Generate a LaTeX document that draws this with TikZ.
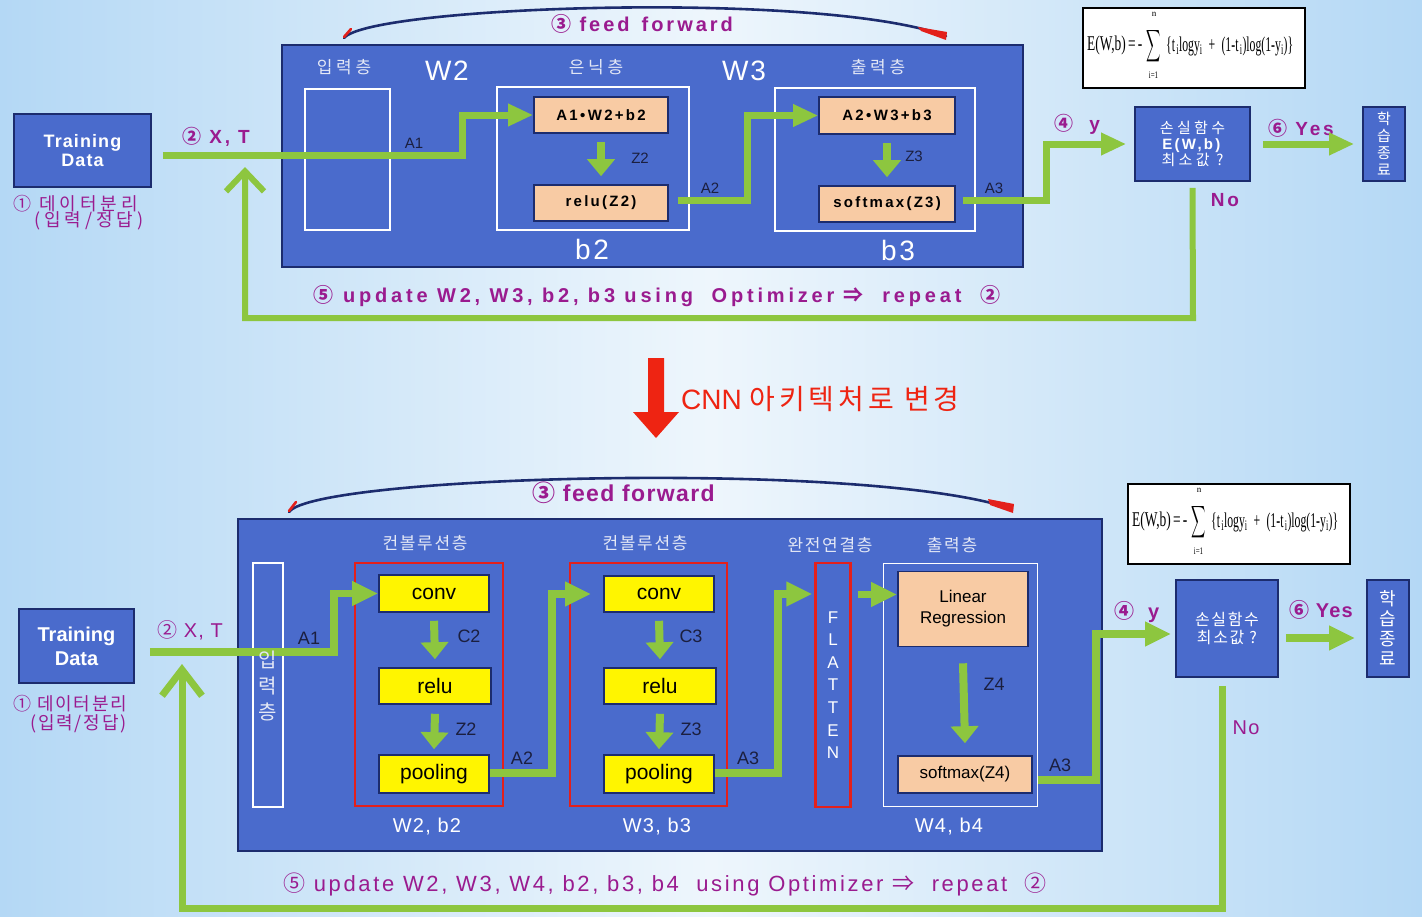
\documentclass[tikz,border=0pt]{standalone}
\usepackage{exscale}
\usepackage{fontspec}
\setmainfont{Liberation Sans}
\newfontfamily\kr{Noto Sans CJK KR}
\newfontfamily\krw[LetterSpace=22]{Noto Sans CJK KR}
\newfontfamily\krs[LetterSpace=10]{Noto Sans CJK KR}
\newfontfamily\krc[LetterSpace=14]{Noto Sans CJK KR}
\newfontfamily\ws[LetterSpace=15]{Liberation Sans}
\newfontfamily\wu[LetterSpace=19]{Liberation Sans}
\newfontfamily\wt[LetterSpace=6]{Liberation Sans}
\newfontfamily\wv[LetterSpace=10]{Liberation Sans}
\newfontfamily\ww[LetterSpace=12]{Liberation Sans}
\newfontfamily\serif{Liberation Serif}
\usetikzlibrary{arrows.meta}
\newcommand\fsz[2]{\fontsize{#1}{#2}\selectfont}
\definecolor{bgA}{HTML}{B4D8F5}
\definecolor{bgB}{HTML}{EEF6FC}
\definecolor{boxblue}{HTML}{4A6BCC}
\definecolor{navy}{HTML}{1C2C6E}
\definecolor{peach}{HTML}{F8CBA4}
\definecolor{yel}{HTML}{FFF500}
\definecolor{redb}{HTML}{E3201B}
\definecolor{purp}{HTML}{9A1B8F}
\definecolor{grn}{HTML}{8DC63F}
\definecolor{labtxt}{HTML}{E4E8F6}
\definecolor{dark}{HTML}{1B1F3F}
\definecolor{cnnred}{HTML}{EE2412}
\tikzset{
 bbox/.style={draw=navy, line width=1.6pt, fill=boxblue, inner sep=0pt, text=white, align=center},
 pbox/.style={draw=navy, line width=1.6pt, fill=peach, inner sep=0pt, align=center, text=black},
 ybox/.style={draw=navy, line width=1.6pt, fill=yel, inner sep=0pt, align=center, text=black},
 wrect/.style={draw=white, line width=1.8pt, inner sep=0pt},
 rrect/.style={draw=redb, line width=2.2pt, inner sep=0pt},
 wtxt/.style={text=labtxt, inner sep=0pt, align=center},
 whtxt/.style={text=white, inner sep=0pt, align=center},
 ptxt/.style={text=purp, inner sep=0pt, align=center},
 dtxt/.style={text=dark, inner sep=0pt},
 ftxt/.style={text=black, inner sep=0pt},
 garrow/.style={draw=grn, line width=7pt, -{Triangle[length=25pt,width=21pt]}},
 garrowb/.style={draw=grn, line width=7.5pt, -{Triangle[length=26pt,width=23pt]}},
 darrow/.style={draw=grn, line width=8pt, -{Triangle[length=17pt,width=27pt]}},
 fback/.style={draw=grn, line width=6pt, -{Straight Barb[length=20pt,width=38pt]}},
 fbackb/.style={draw=grn, line width=7pt, -{Straight Barb[length=26pt,width=40pt]}},
 fbox/.style={draw=black, line width=2pt, fill=white, inner sep=0pt},
 swoosh/.style={draw=navy, line width=2.6pt, line cap=round},
}
\begin{document}
\begin{tikzpicture}[x=1pt,y=-1pt]
\useasboundingbox (0,0) rectangle (1422,916);
\fill[left color=bgA, right color=bgA, middle color=bgB] (0,0) rectangle (1422,916);

% ================= TOP =================
\draw[swoosh] (344,38) .. controls (370,6) and (820,-10) .. (946,36);
\draw[redb, line width=2.6pt, line cap=round] (344,37) -- (351,29);
\fill[redb] (918,27) -- (947,32) -- (946,40) -- (921,31) -- cycle;
\node[ptxt, font=\ws\bfseries\fsz{20}{22}] (ff1) at (642,24) {{\kr ③} feed \,forward};

\node[bbox, minimum width=137, minimum height=73, font=\wt\bfseries\fsz{18}{19}] (td1) at (82.5,150.5) {Training\\Data};
\node[ptxt, font=\krw\fsz{18}{18}, anchor=west] (l1a) at (13,204) {① 데이터분리};
\node[ptxt, font=\krw\fsz{18}{18}, anchor=west] (l1b) at (34,221) {(입력/정답)};
\node[ptxt, font=\ws\bfseries\fsz{19}{21}] (xt1) at (216,137) {{\kr ②} X, T};

\node[bbox, line width=2pt, minimum width=741, minimum height=222] (m1) at (652.5,156) {};
\node[wtxt, font=\krw\fsz{17}{19}] (t1in) at (344,67) {입력층};
\node[whtxt, font=\wt\fsz{28}{30}] (t1w2) at (447,71) {W2};
\node[wtxt, font=\krw\fsz{17}{19}] (t1hid) at (596,67) {은닉층};
\node[whtxt, font=\wt\fsz{28}{30}] (t1w3) at (744,71) {W3};
\node[wtxt, font=\krw\fsz{17}{19}] (t1out) at (878,67) {출력층};
\node[whtxt, font=\wv\fsz{28}{30}] (t1b2) at (592,249) {b2};
\node[whtxt, font=\wv\fsz{28}{30}] (t1b3) at (898,250) {b3};

\node[wrect, minimum width=85, minimum height=141] (in1) at (347.5,159.5) {};
\node[wrect, minimum width=192, minimum height=143] (hid1) at (593,158.5) {};
\node[wrect, minimum width=200, minimum height=143] (out1) at (875,159.5) {};

\node[pbox, minimum width=134, minimum height=36, font=\ws\bfseries\fsz{15}{17}] (a1w) at (601,115) {A1\,•\,W2+b2};
\node[pbox, minimum width=134, minimum height=36, font=\ws\bfseries\fsz{15}{17}] (relu1) at (601,203) {relu(Z2)};
\node[pbox, minimum width=136, minimum height=37, font=\ws\bfseries\fsz{15}{17}] (a2w) at (887,115.5) {A2\,•\,W3+b3};
\node[pbox, minimum width=136, minimum height=36, font=\ws\bfseries\fsz{15}{17}] (sm1) at (887,204) {softmax(Z3)};

\node[dtxt, font=\fsz{15}{17}] (la1) at (414,143) {A1};
\node[dtxt, font=\fsz{15}{17}] (lz2) at (640,158) {Z2};
\node[dtxt, font=\fsz{15}{17}] (la2) at (710,188) {A2};
\node[dtxt, font=\fsz{15}{17}] (lz3) at (914,156) {Z3};
\node[dtxt, font=\fsz{15}{17}] (la3) at (994,188) {A3};

% formula 1
\node[fbox, minimum width=222, minimum height=80] (form1) at (1193.5,48) {};
\node[ftxt, anchor=west, font=\serif\fsz{21}{21}] (fE1) at (1087,45) {\scalebox{0.64}[1]{E(W,b)\,=\,-}};
\node[ftxt, font=\fsz{24}{24}] (fS1) at (1153.5,46) {\scalebox{0.4}[0.9]{$\displaystyle\sum$}};
\node[ftxt, font=\serif\fsz{9}{9}] (fn1) at (1154,14) {n};
\node[ftxt, font=\serif\fsz{10}{10}] (fi1) at (1153.5,75) {\scalebox{0.7}[1]{i=1}};
\node[ftxt, anchor=west, font=\serif\fsz{21}{21}] (fR1) at (1166,46) {\scalebox{0.56}[1]{\{t\textsubscript{\,i}logy\textsubscript{i} \;+\; (1-t\textsubscript{\,i})log(1-y\textsubscript{i})\}}};

\node[bbox, minimum width=115, minimum height=74, font=\fsz{15}{15.5}] (loss1) at (1192.5,144) {{\krw 손실함수}\\\textbf{\ws E(W,b)}\\{\krw 최소값 ?}};
\node[bbox, minimum width=42, minimum height=74, font=\kr\fsz{15}{17}] (end1) at (1384,144) {학\\습\\종\\료};
\node[ptxt, font=\ws\bfseries\fsz{19}{21}] (ly1) at (1077,124) {{\kr ④} \ y};
\node[ptxt, font=\ws\bfseries\fsz{19}{21}] (lyes1) at (1301,128) {{\kr ⑥} Yes};
\node[ptxt, font=\ws\bfseries\fsz{19}{21}] (lno1) at (1225,200) {No};
\node[ptxt, font=\wu\bfseries\fsz{20}{22}] (upd1) at (657,296) {{\kr ⑤} update W2, W3, b2, b3 using \ Optimizer {\kr ⇒} \ repeat \ {\kr ②}};

\draw[garrow] ([xshift=11pt,yshift=-4.5pt]td1.east) -- ++(300,0) |- (a1w.west);
\draw[darrow] ([yshift=-8pt]a1w.south) -- ([yshift=8pt]relu1.north);
\draw[garrow] ([xshift=9pt,yshift=3pt]relu1.east) -- ++(70,0) |- (a2w.west);
\draw[darrow] ([yshift=-8pt]a2w.south) -- ([yshift=8pt]sm1.north);
\draw[garrow, shorten >=8pt] ([xshift=7pt,yshift=4pt]sm1.east) -- ++(84,0) |- (loss1.west);
\draw[garrow, shorten <=12pt, shorten >=8pt] (loss1.east) -- (end1.west);
\coordinate (fb1a) at (1193,318);
\coordinate (fb1b) at (245,318);
\coordinate (fb1c) at (245,167);
\draw[fback] ([yshift=-6pt]loss1.south) -- (fb1a) -- (fb1b) -- (fb1c);

% ================= MIDDLE =================
\fill[cnnred] (648,358) -- (664,358) -- (664,412) -- (679,412) -- (656,438) -- (633,412) -- (648,412) -- cycle;
\node[text=cnnred, inner sep=0pt, anchor=west, font=\fsz{28}{30}] (cnn) at (681,399) {CNN {\krc 아키텍처로 변경}};

% ================= BOTTOM =================
\draw[swoosh] (289,512) .. controls (315,475) and (870,460) .. (1012,509);
\draw[redb, line width=2.6pt, line cap=round] (289,511) -- (296,502);
\fill[redb] (988,499) -- (1014,504) -- (1013,513) -- (990,505) -- cycle;
\node[ptxt, font=\wt\bfseries\fsz{23}{25}] (ff2) at (623.5,493) {{\kr ③} feed forward};

\node[bbox, minimum width=115, minimum height=74, font=\bfseries\fsz{20}{24}] (td2) at (76.5,646) {Training\\Data};
\node[ptxt, font=\krs\fsz{18}{20}, anchor=west] (l2a) at (13,704) {① 데이터분리};
\node[ptxt, font=\krs\fsz{18}{20}, anchor=west] (l2b) at (30,724) {(입력/정답)};
\node[ptxt, font=\wt\fsz{20}{22}] (xt2) at (190,630) {{\kr ②} X, T};

\node[bbox, line width=2pt, minimum width=864, minimum height=332] (m2) at (670,685) {};
\node[wtxt, font=\krs\fsz{17}{19}] (t2c1) at (425,543) {컨볼루션층};
\node[wtxt, font=\krs\fsz{17}{19}] (t2c2) at (645,543) {컨볼루션층};
\node[wtxt, font=\krs\fsz{17}{19}] (t2fc) at (830,545) {완전연결층};
\node[wtxt, font=\krs\fsz{17}{19}] (t2out) at (952,545) {출력층};
\node[whtxt, font=\wt\fsz{20}{22}] (t2w2) at (427,827) {W2, b2};
\node[whtxt, font=\wt\fsz{20}{22}] (t2w3) at (657,827) {W3, b3};
\node[whtxt, font=\wt\fsz{20}{22}] (t2w4) at (949,827) {W4, b4};

\node[wrect, minimum width=30, minimum height=244] (in2) at (268,685) {};
\node[rrect, minimum width=148, minimum height=243] (red1) at (429,684.5) {};
\node[rrect, minimum width=157, minimum height=243] (red2) at (648.5,684.5) {};
\node[rrect, minimum width=35, minimum height=244] (flat) at (833,685) {};
\node[wrect, minimum width=154, minimum height=243] (out2) at (960.5,685) {};

\node[ybox, minimum width=110, minimum height=37, font=\fsz{21}{23}] (cv1) at (434,593.5) {conv};
\node[ybox, minimum width=112, minimum height=36, font=\fsz{21}{23}] (rl1) at (435,686) {relu};
\node[ybox, minimum width=110, minimum height=38, font=\fsz{21}{23}] (pl1) at (434,774) {pooling};
\node[ybox, minimum width=110, minimum height=36, font=\fsz{21}{23}] (cv2) at (659,594) {conv};
\node[ybox, minimum width=112, minimum height=36, font=\fsz{21}{23}] (rl2) at (660,686) {relu};
\node[ybox, minimum width=110, minimum height=38, font=\fsz{21}{23}] (pl2) at (659,774) {pooling};
\node[pbox, minimum width=130, minimum height=75, font=\fsz{17}{21}] (lr) at (963,609) {Linear\\Regression};
\node[pbox, minimum width=134, minimum height=37, font=\fsz{17}{19}] (sm2) at (965,774.5) {softmax(Z4)};

\node[dtxt, font=\fsz{18}{20}] (lba1) at (309,638) {A1};
\node[dtxt, font=\fsz{18}{20}] (lbc2) at (469,636) {C2};
\node[dtxt, font=\fsz{18}{20}] (lbz2) at (466,729) {Z2};
\node[dtxt, font=\fsz{18}{20}] (lba2) at (522,758) {A2};
\node[dtxt, font=\fsz{18}{20}] (lbc3) at (691,636) {C3};
\node[dtxt, font=\fsz{18}{20}] (lbz3) at (691,729) {Z3};
\node[dtxt, font=\fsz{18}{20}] (lba3) at (748,758) {A3};
\node[dtxt, font=\fsz{18}{20}] (lbz4) at (994,684) {Z4};
\node[dtxt, font=\fsz{18}{20}] (lba3b) at (1060,765) {A3};

% formula 2
\node[fbox, minimum width=222, minimum height=80] (form2) at (1238.5,524) {};
\node[ftxt, anchor=west, font=\serif\fsz{21}{21}] (fE2) at (1132,521) {\scalebox{0.64}[1]{E(W,b)\,=\,-}};
\node[ftxt, font=\fsz{24}{24}] (fS2) at (1198.5,522) {\scalebox{0.4}[0.9]{$\displaystyle\sum$}};
\node[ftxt, font=\serif\fsz{9}{9}] (fn2) at (1199,490) {n};
\node[ftxt, font=\serif\fsz{10}{10}] (fi2) at (1198.5,551) {\scalebox{0.7}[1]{i=1}};
\node[ftxt, anchor=west, font=\serif\fsz{21}{21}] (fR2) at (1211,522) {\scalebox{0.56}[1]{\{t\textsubscript{\,i}logy\textsubscript{i} \;+\; (1-t\textsubscript{\,i})log(1-y\textsubscript{i})\}}};

\node[bbox, minimum width=102, minimum height=97, font=\krs\fsz{16}{18}] (loss2) at (1227,628.5) {손실함수\\최소값 ?};
\node[bbox, minimum width=42, minimum height=97, font=\kr\fsz{18}{20}] (end2) at (1388,628.5) {학\\습\\종\\료};
\node[ptxt, font=\wt\bfseries\fsz{20}{22}] (ly2) at (1137,612) {{\kr ④} \ y};
\node[ptxt, font=\wt\bfseries\fsz{20}{22}] (lyes2) at (1321,610) {{\kr ⑥} Yes};
\node[ptxt, font=\wt\fsz{20}{22}] (lno2) at (1246,728) {No};
\node[ptxt, font=\ww\fsz{22}{24}] (upd2) at (665,884) {{\kr ⑤} update W2, W3, W4, b2, b3, b4 \ using Optimizer {\kr ⇒} \ repeat \ {\kr ②}};

\coordinate (lrin) at ([yshift=14.5pt]lr.west);
\coordinate (l2in) at ([yshift=-5.5pt]loss2.west);
\draw[garrowb] ([xshift=15pt,yshift=-6pt]td2.east) -- ++(184,0) |- (cv1.west);
\draw[darrow] ([yshift=-8pt]cv1.south) -- ([yshift=8pt]rl1.north);
\draw[darrow] ([yshift=-9pt]rl1.south) -- ([yshift=5pt]pl1.north);
\draw[garrowb, shorten >=12pt] ([yshift=1pt]pl1.east) -- ++(62,0) |- (cv2.west);
\draw[darrow] ([yshift=-8pt]cv2.south) -- ([yshift=8pt]rl2.north);
\draw[darrow] ([yshift=-9pt]rl2.south) -- ([yshift=5pt]pl2.north);
\draw[garrowb, shorten >=2pt] ([yshift=1pt]pl2.east) -- ++(63,0) |- (flat.west |- cv2.west);
\draw[garrowb, shorten <=6pt] (flat.east |- lrin) -- (lrin);
\draw[darrow] ([yshift=-16pt]lr.south) -- ([yshift=12pt]sm2.north);
\draw[garrowb, shorten >=4pt] ([xshift=5pt,yshift=-5.5pt]sm2.east) -- ++(58,0) |- (l2in);
\draw[garrowb, shorten <=7pt, shorten >=11pt] ([yshift=-9.5pt]loss2.east) -- ([yshift=-9.5pt]end2.west);
\coordinate (fb2a) at (1222,908);
\coordinate (fb2b) at (182,908);
\coordinate (fb2c) at (182,664);
\draw[fbackb] ([xshift=-5pt,yshift=-8pt]loss2.south) -- (fb2a) -- (fb2b) -- (fb2c);

\node[wtxt, font=\kr\fsz{20}{26}] (in2t) at (268,686) {입\\력\\층};
\node[whtxt, font=\fsz{17}{22.6}] (flatt) at (833,685) {F\\L\\A\\T\\T\\E\\N};
\end{tikzpicture}
\end{document}
